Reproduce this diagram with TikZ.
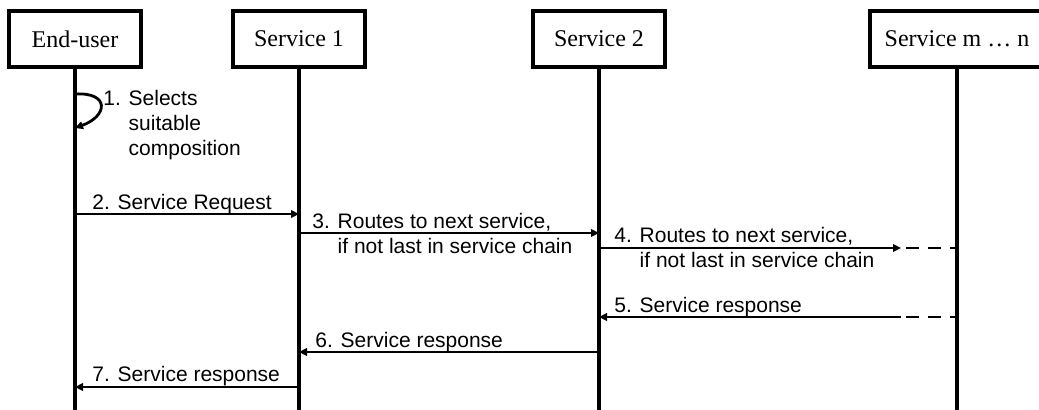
\documentclass[tikz,border=0pt]{standalone}
\usepackage{fontspec}
\setmainfont{Liberation Serif}
\newfontfamily\labelfont{Liberation Sans}
\usetikzlibrary{arrows.meta}

\begin{document}
\begin{tikzpicture}[x=0.5pt,y=-0.5pt,line join=miter]

	\tikzset{
		actor/.style={
				rectangle, draw=black, line width=1.6pt, inner sep=0pt, minimum width=66pt, minimum height=28pt,
				font=\fontsize{12}{14}\selectfont
			},
		life/.style={
				draw=black, line width=1.6pt
			},
		msg/.style={
				draw=black, line width=1.4pt, -{Triangle[length=4pt,width=3.8pt]}
			},
		tail/.style={
				draw=black, line width=1.4pt, dash pattern=on 6.5pt off 4.5pt
			},
		lbl/.style={
				anchor=base west, inner sep=0pt, align=left,
				font=\labelfont\fontsize{10.5}{12.5}\selectfont
			},
	}
	\useasboundingbox (0,0) rectangle (1039,409);
	\clip (0,0) rectangle (1039,409);

	\node[actor](eu) at (75,39){End-user};
	\node[actor](s1) at (299,39){Service 1};
	\node[actor](s2) at (599,39){Service 2};
	\node[actor, minimum width=87pt](sm) at (957,39){Service m \dots\ n};

	% message levels and the end of the lifelines
	\coordinate (bot) at (0,412);
	\coordinate (y1) at (0,94);
	\coordinate (y1b) at (0,128);
	\coordinate (y2) at (0,214);
	\coordinate (y3) at (0,233);
	\coordinate (y4) at (0,248);
	\coordinate (y5) at (0,317);
	\coordinate (y6) at (0,352);
	\coordinate (y7) at (0,387);
	\coordinate (gap) at (901,0);

	\draw[life] (eu) -- (eu |- bot);
	\draw[life] (s1) -- (s1 |- bot);
	\draw[life] (s2) -- (s2 |- bot);
	\draw[life] (sm) -- (sm |- bot);

	\draw[msg] (eu |- y1) .. controls +(35,-2) and +(33,-12) .. (eu |- y1b);
	\draw[msg] (eu |- y2) -- (s1 |- y2);
	\draw[msg] (s1 |- y3) -- (s2 |- y3);
	\draw[msg] (s2 |- y4) -- (gap |- y4);
	\draw[tail] (gap |- y4) ++(5,0) -- (sm |- y4);
	\draw[tail] (gap |- y5) ++(5,0) -- (sm |- y5);
	\draw[msg] (gap |- y5) -- (s2 |- y5);
	\draw[msg] (s2 |- y6) -- (s1 |- y6);
	\draw[msg] (s1 |- y7) -- (eu |- y7);

	% the base of a label is the baseline of its last line
	\node[lbl](l1) at (103,155){1. Selects\\\hphantom{1. }suitable\\\hphantom{1. }composition};
	\node[lbl](l2) at (92,209){2. Service Request};
	\node[lbl](l3) at (312,253){3. Routes to next service,\\\hphantom{3. }if not last in service chain};
	\node[lbl](l4) at (614,267){4. Routes to next service,\\\hphantom{4. }if not last in service chain};
	\node[lbl](l5) at (614,312){5. Service response};
	\node[lbl](l6) at (315,347){6. Service response};
	\node[lbl](l7) at (92,381){7. Service response};

\end{tikzpicture}
\end{document}
